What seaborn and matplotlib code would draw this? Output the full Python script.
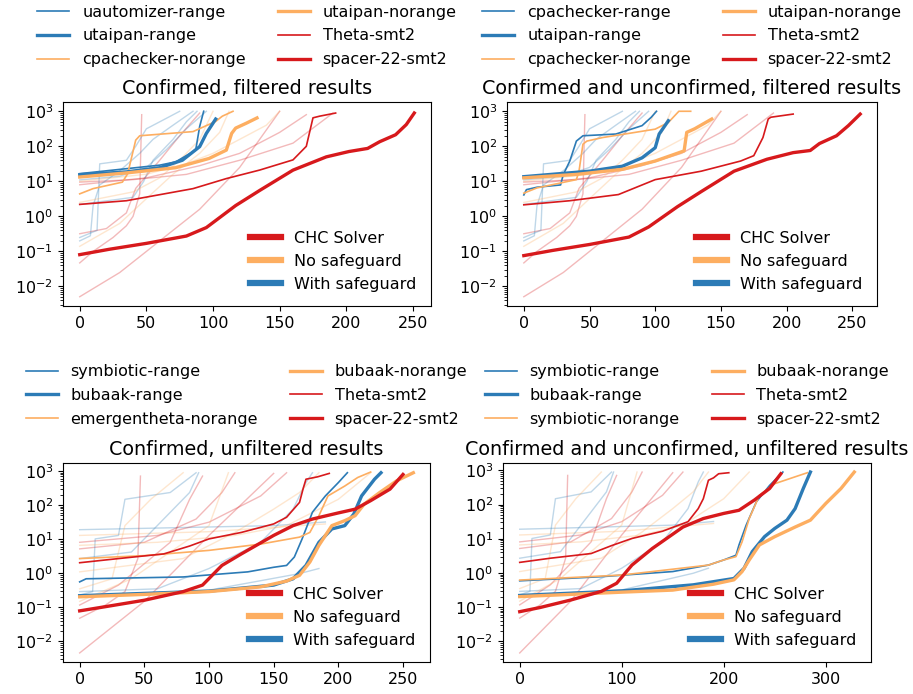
import matplotlib
matplotlib.use("Agg")
import matplotlib.pyplot as plt
from matplotlib.lines import Line2D
import seaborn as sns

plt.rcParams.update({"font.size": 12, "font.family": ["DejaVu Sans"]})

RED, ORANGE, BLUE = "#d7191c", "#fdae61", "#2c7bb6"

TITLES = ["Confirmed, filtered results",
          "Confirmed and unconfirmed, filtered results",
          "Confirmed, unfiltered results",
          "Confirmed and unconfirmed, unfiltered results"]
INNER_LABELS = ["CHC Solver", "No safeguard", "With safeguard"]

# ---------------- top-left: highlighted lines ----------------
TL_UAUTO_R_X = [0, 60, 72, 87, 90, 93]
TL_UAUTO_R_Y = [16.6, 29, 36, 78, 370, 1000]
TL_UTAIPAN_R_X = [0, 35, 60, 77, 90, 95, 102]
TL_UTAIPAN_R_Y = [15.5, 18.6, 24.5, 40, 98, 234, 600]
TL_CPA_N_X = [0, 10, 32, 36, 42, 45, 85, 102, 107, 115]
TL_CPA_N_Y = [4.4, 6.2, 9.5, 16.6, 150, 200, 263, 513, 725, 1000]
TL_UTAIPAN_N_X = [0, 35, 72, 97, 110, 114, 117, 125, 133]
TL_UTAIPAN_N_Y = [13.3, 17.4, 24.5, 45, 78, 234, 331, 457, 646]
TL_THETA_X = [0, 35, 85, 110, 135, 160, 170, 175, 180, 192]
TL_THETA_Y = [2.2, 2.8, 6.2, 12, 21, 41, 100, 650, 725, 890]
TL_SPACER_X = [0, 22, 50, 80, 95, 117, 135, 160, 185, 202, 216, 225, 237, 245, 251]
TL_SPACER_Y = [0.081, 0.115, 0.17, 0.275, 0.48, 2.04, 5.5, 20.9, 50, 71, 87, 135, 214, 417, 891]

# ---------------- top-right: highlighted lines ----------------
TR_CPA_R_X = [0, 2, 10, 28, 30, 35, 40, 45, 70, 90, 97, 101]
TR_CPA_R_Y = [4.1, 5.8, 6.8, 7.9, 15.5, 38, 141, 200, 224, 389, 676, 1000]
TR_UTAIPAN_R_X = [0, 50, 75, 90, 100, 103, 110]
TR_UTAIPAN_R_Y = [13.6, 19.5, 27, 47, 91, 224, 537]
TR_CPA_N_X = [0, 10, 40, 42, 45, 48, 60, 80, 100, 110, 118, 127]
TR_CPA_N_Y = [4.6, 6.5, 11.2, 19.5, 115, 141, 178, 234, 309, 479, 1000, 1000]
TR_UTAIPAN_N_X = [0, 40, 75, 100, 122, 124, 130, 143]
TR_UTAIPAN_N_Y = [12.6, 15.8, 22, 38, 74, 250, 316, 600]
TR_THETA_X = [0, 35, 72, 100, 135, 165, 175, 182, 186, 188, 205]
TR_THETA_Y = [2.14, 2.8, 4.2, 11.2, 19.5, 38, 54, 178, 600, 676, 832]
TR_SPACER_X = [0, 22, 50, 80, 95, 117, 135, 160, 185, 205, 218, 225, 238, 247, 256]
TR_SPACER_Y = [0.076, 0.107, 0.158, 0.257, 0.5, 1.9, 5.1, 19.5, 42.7, 66, 76, 120, 200, 389, 832]

# ---------------- top row: faint background tools ----------------
TOP_BG_R1_X = [0, 30, 60, 90, 120, 150]
TOP_BG_R1_Y = [0.0051, 0.025, 0.2, 1.6, 25, 1000]
TOP_BG_R2_X = [0, 10, 25, 35, 40, 45, 46.5]
TOP_BG_R2_Y = [0.047, 0.1, 0.25, 0.54, 1.0, 4.4, 800]
TOP_BG_R3_X = [0, 40, 80, 120, 160, 190]
TOP_BG_R3_Y = [9.5, 11.2, 15.8, 40, 123, 890]
TOP_BG_R4_X = [0, 50, 90, 120, 150, 170]
TOP_BG_R4_Y = [8, 12.6, 28, 63, 250, 800]
TOP_BG_R5_X = [0, 20, 35, 42, 60, 75, 90]
TOP_BG_R5_Y = [0.32, 0.45, 1.26, 6.3, 40, 200, 890]
TOP_BG_B1_X = [0, 8, 10, 15, 30, 45, 55, 70, 85]
TOP_BG_B1_Y = [0.2, 0.28, 2.0, 7.9, 20, 63, 158, 400, 1000]
TOP_BG_B2_X = [0, 13, 15, 35, 42, 50, 60, 75]
TOP_BG_B2_Y = [0.25, 0.4, 31.6, 40, 100, 316, 500, 1000]
TOP_BG_B3_X = [0, 40, 48, 55, 70, 80, 88]
TOP_BG_B3_Y = [2.2, 3.5, 10, 40, 158, 500, 1000]
TOP_BG_B4_X = [0, 30, 50, 65, 80, 95]
TOP_BG_B4_Y = [11, 14, 25, 80, 316, 1000]
TOP_BG_O1_X = [0, 30, 50, 70, 90, 105, 112]
TOP_BG_O1_Y = [0.14, 0.63, 3.2, 16, 63, 250, 1000]
TOP_BG_O2_X = [0, 40, 60, 75, 90, 100]
TOP_BG_O2_Y = [2.5, 5, 12.6, 40, 158, 1000]
TOP_BG_O3_X = [0, 50, 80, 100, 120, 140, 150]
TOP_BG_O3_Y = [10, 16, 32, 63, 158, 400, 1000]

# ---------------- bottom-left: highlighted lines ----------------
BL_SYMB_R_X = [0, 5, 80, 130, 150, 160, 166, 172, 180, 190, 200, 207]
BL_SYMB_R_Y = [0.56, 0.69, 0.78, 1.1, 1.5, 1.7, 3.0, 10.2, 62, 186, 457, 891]
BL_BUBAAK_R_X = [0, 100, 150, 165, 175, 185, 195, 205, 212, 218, 228, 233]
BL_BUBAAK_R_Y = [0.22, 0.30, 0.45, 0.69, 1.7, 8.1, 20, 25, 55, 186, 575, 891]
BL_EMERG_N_X = [0, 50, 100, 140, 170, 178, 185, 192, 205, 215, 225]
BL_EMERG_N_Y = [2.7, 3.3, 4.7, 7.2, 11.5, 15.8, 49, 186, 363, 646, 933]
BL_BUBAAK_N_X = [0, 50, 100, 140, 160, 170, 178, 185, 195, 205, 213, 220, 232, 245, 258]
BL_BUBAAK_N_Y = [0.204, 0.24, 0.29, 0.40, 0.59, 0.87, 2.14, 6.6, 25, 35, 49, 107, 234, 513, 891]
BL_THETA_X = [0, 30, 65, 85, 100, 125, 150, 160, 170, 173, 175, 184, 193]
BL_THETA_Y = [2.04, 2.7, 3.7, 6.3, 10.2, 15.8, 28, 44, 120, 324, 575, 676, 851]
BL_SPACER_X = [0, 20, 50, 80, 95, 110, 125, 150, 165, 180, 200, 213, 225, 240, 250]
BL_SPACER_Y = [0.079, 0.105, 0.162, 0.29, 0.45, 1.7, 3.7, 12.9, 25, 39, 59, 76, 135, 295, 794]

# ---------------- bottom-right: highlighted lines ----------------
BR_SYMB_R_X = [0, 80, 150, 185, 200, 212, 215, 222, 232, 245, 258]
BR_SYMB_R_Y = [0.59, 0.78, 1.1, 1.7, 2.4, 3.3, 6.6, 25, 120, 363, 891]
BR_BUBAAK_R_X = [0, 100, 170, 210, 220, 228, 240, 250, 262, 270, 278, 285]
BR_BUBAAK_R_Y = [0.22, 0.30, 0.45, 0.69, 1.38, 4.2, 11.5, 20, 35, 76, 295, 891]
BR_SYMB_N_X = [0, 100, 185, 200, 212, 218, 225, 235, 250, 270, 282]
BR_SYMB_N_Y = [0.62, 0.87, 1.7, 2.4, 3.0, 8.1, 39, 186, 407, 646, 851]
BR_BUBAAK_N_X = [0, 100, 150, 190, 210, 218, 225, 235, 250, 270, 285, 300, 315, 328]
BR_BUBAAK_N_Y = [0.204, 0.275, 0.316, 0.47, 0.63, 1.1, 2.4, 6.6, 11.5, 22, 35, 107, 295, 891]
BR_THETA_X = [0, 30, 70, 90, 110, 140, 165, 175, 180, 185, 190, 195, 205]
BR_THETA_Y = [2.04, 2.7, 3.7, 6.3, 10.2, 16.6, 31.6, 76, 148, 513, 603, 794, 851]
BR_SPACER_X = [0, 20, 50, 80, 95, 110, 130, 160, 180, 200, 215, 230, 245, 256]
BR_SPACER_Y = [0.074, 0.098, 0.162, 0.29, 0.5, 1.7, 5.2, 22, 39, 55, 68, 135, 295, 794]

# ---------------- bottom row: faint background tools ----------------
BOT_BG_B0_X = [0, 150, 190]
BOT_BG_B0_Y = [19, 25, 32]
BOT_BG_O0_X = [0, 100, 190]
BOT_BG_O0_Y = [12.9, 16.6, 28]
BOT_BG_R1_X = [0, 50, 100, 150]
BOT_BG_R1_Y = [0.0046, 0.15, 12.9, 850]
BOT_BG_R2_X = [0, 20, 35, 45, 47]
BOT_BG_R2_Y = [0.048, 0.117, 0.29, 2.7, 710]
BOT_BG_R3_X = [0, 60, 100, 140, 160]
BOT_BG_R3_Y = [8.1, 12.9, 31.6, 186, 890]
BOT_BG_R4_X = [0, 50, 90, 110, 120]
BOT_BG_R4_Y = [5.2, 8.1, 39, 234, 890]
BOT_BG_R5_X = [0, 30, 70, 85, 95]
BOT_BG_R5_Y = [0.117, 0.45, 8.1, 148, 710]
BOT_BG_B1_X = [0, 10, 12, 30, 35, 70, 90]
BOT_BG_B1_Y = [0.23, 0.29, 10.2, 12.9, 148, 234, 890]
BOT_BG_B2_X = [0, 40, 60, 85, 92]
BOT_BG_B2_Y = [2.7, 4.2, 25, 234, 890]
BOT_BG_B3_X = [0, 60, 100, 140, 165, 175, 180]
BOT_BG_B3_Y = [0.29, 0.35, 1.38, 8.1, 76, 457, 890]
BOT_BG_B4_X = [0, 100, 170, 185]
BOT_BG_B4_Y = [0.22, 0.32, 0.98, 1.38]
BOT_BG_O1_X = [0, 40, 70, 100, 115]
BOT_BG_O1_Y = [0.15, 0.69, 4.2, 25, 890]
BOT_BG_O2_X = [0, 80, 120, 150, 170, 185]
BOT_BG_O2_Y = [1.1, 2.7, 15.8, 76, 234, 890]
BOT_BG_O3_X = [0, 25, 35, 55, 80]
BOT_BG_O3_Y = [0.35, 0.69, 25, 148, 890]
BOT_BG_O4_X = [0, 60, 120, 160, 200, 225]
BOT_BG_O4_Y = [6.6, 8.1, 12.9, 25, 148, 890]

TOP_BG = [(TOP_BG_R1_X, TOP_BG_R1_Y, RED), (TOP_BG_R2_X, TOP_BG_R2_Y, RED),
          (TOP_BG_R3_X, TOP_BG_R3_Y, RED), (TOP_BG_R4_X, TOP_BG_R4_Y, RED),
          (TOP_BG_R5_X, TOP_BG_R5_Y, RED), (TOP_BG_B1_X, TOP_BG_B1_Y, BLUE),
          (TOP_BG_B2_X, TOP_BG_B2_Y, BLUE), (TOP_BG_B3_X, TOP_BG_B3_Y, BLUE),
          (TOP_BG_B4_X, TOP_BG_B4_Y, BLUE), (TOP_BG_O1_X, TOP_BG_O1_Y, ORANGE),
          (TOP_BG_O2_X, TOP_BG_O2_Y, ORANGE), (TOP_BG_O3_X, TOP_BG_O3_Y, ORANGE)]
BOT_BG = [(BOT_BG_B0_X, BOT_BG_B0_Y, BLUE), (BOT_BG_O0_X, BOT_BG_O0_Y, ORANGE),
          (BOT_BG_R1_X, BOT_BG_R1_Y, RED), (BOT_BG_R2_X, BOT_BG_R2_Y, RED),
          (BOT_BG_R3_X, BOT_BG_R3_Y, RED), (BOT_BG_R4_X, BOT_BG_R4_Y, RED),
          (BOT_BG_R5_X, BOT_BG_R5_Y, RED), (BOT_BG_B1_X, BOT_BG_B1_Y, BLUE),
          (BOT_BG_B2_X, BOT_BG_B2_Y, BLUE), (BOT_BG_B3_X, BOT_BG_B3_Y, BLUE),
          (BOT_BG_B4_X, BOT_BG_B4_Y, BLUE), (BOT_BG_O1_X, BOT_BG_O1_Y, ORANGE),
          (BOT_BG_O2_X, BOT_BG_O2_Y, ORANGE), (BOT_BG_O3_X, BOT_BG_O3_Y, ORANGE),
          (BOT_BG_O4_X, BOT_BG_O4_Y, ORANGE)]

THIN, THICK = 1.2, 2.4
PANELS = [
    (TITLES[0], TOP_BG, [
        ("uautomizer-range", TL_UAUTO_R_X, TL_UAUTO_R_Y, BLUE, THIN),
        ("utaipan-range", TL_UTAIPAN_R_X, TL_UTAIPAN_R_Y, BLUE, THICK),
        ("cpachecker-norange", TL_CPA_N_X, TL_CPA_N_Y, ORANGE, THIN),
        ("utaipan-norange", TL_UTAIPAN_N_X, TL_UTAIPAN_N_Y, ORANGE, THICK),
        ("Theta-smt2", TL_THETA_X, TL_THETA_Y, RED, THIN),
        ("spacer-22-smt2", TL_SPACER_X, TL_SPACER_Y, RED, THICK)]),
    (TITLES[1], TOP_BG, [
        ("cpachecker-range", TR_CPA_R_X, TR_CPA_R_Y, BLUE, THIN),
        ("utaipan-range", TR_UTAIPAN_R_X, TR_UTAIPAN_R_Y, BLUE, THICK),
        ("cpachecker-norange", TR_CPA_N_X, TR_CPA_N_Y, ORANGE, THIN),
        ("utaipan-norange", TR_UTAIPAN_N_X, TR_UTAIPAN_N_Y, ORANGE, THICK),
        ("Theta-smt2", TR_THETA_X, TR_THETA_Y, RED, THIN),
        ("spacer-22-smt2", TR_SPACER_X, TR_SPACER_Y, RED, THICK)]),
    (TITLES[2], BOT_BG, [
        ("symbiotic-range", BL_SYMB_R_X, BL_SYMB_R_Y, BLUE, THIN),
        ("bubaak-range", BL_BUBAAK_R_X, BL_BUBAAK_R_Y, BLUE, THICK),
        ("emergentheta-norange", BL_EMERG_N_X, BL_EMERG_N_Y, ORANGE, THIN),
        ("bubaak-norange", BL_BUBAAK_N_X, BL_BUBAAK_N_Y, ORANGE, THICK),
        ("Theta-smt2", BL_THETA_X, BL_THETA_Y, RED, THIN),
        ("spacer-22-smt2", BL_SPACER_X, BL_SPACER_Y, RED, THICK)]),
    (TITLES[3], BOT_BG, [
        ("symbiotic-range", BR_SYMB_R_X, BR_SYMB_R_Y, BLUE, THIN),
        ("bubaak-range", BR_BUBAAK_R_X, BR_BUBAAK_R_Y, BLUE, THICK),
        ("symbiotic-norange", BR_SYMB_N_X, BR_SYMB_N_Y, ORANGE, THIN),
        ("bubaak-norange", BR_BUBAAK_N_X, BR_BUBAAK_N_Y, ORANGE, THICK),
        ("Theta-smt2", BR_THETA_X, BR_THETA_Y, RED, THIN),
        ("spacer-22-smt2", BR_SPACER_X, BR_SPACER_Y, RED, THICK)]),
]

# axes boxes in pixels: left, right, top, bottom
W, H = 913, 694
BOXES = [(63, 431, 102, 306), (507, 877, 102, 306),
         (63, 430, 463, 662), (503, 871, 463, 662)]
LEG_Y = [1.10, 1.10, 1.11, 1.11]

fig = plt.figure(figsize=(W / 100, H / 100), dpi=100)

for (title, bg, lines), (l, r, t, b), ly in zip(PANELS, BOXES, LEG_Y):
    ax = fig.add_axes([l / W, 1 - b / H, (r - l) / W, (b - t) / H])
    for x, y, c in bg:
        sns.lineplot(x=x, y=y, ax=ax, color=c, lw=1.0, alpha=0.3,
                     estimator=None, sort=False, zorder=1)
    handles = []
    for name, x, y, c, lw in lines:
        sns.lineplot(x=x, y=y, ax=ax, color=c, lw=lw, estimator=None,
                     sort=False, zorder=3 if lw > 2 else 2)
        handles.append(Line2D([], [], color=c, lw=lw, label=name))
    ax.set_yscale("log")
    ax.set_title(title, fontsize=13.8)
    top_leg = ax.legend(handles=handles, loc="lower center", ncol=2,
                        bbox_to_anchor=(0.5, ly), frameon=False, fontsize=11.5,
                        labelspacing=0.55)
    ax.add_artist(top_leg)
    inner = [Line2D([], [], color=c, lw=4.5, label=lab)
             for c, lab in zip([RED, ORANGE, BLUE], INNER_LABELS)]
    ax.legend(handles=inner, loc="lower right", frameon=False, fontsize=11.5)
    ax.tick_params(labelsize=11.5)

fig.savefig("out.png", dpi=100)
